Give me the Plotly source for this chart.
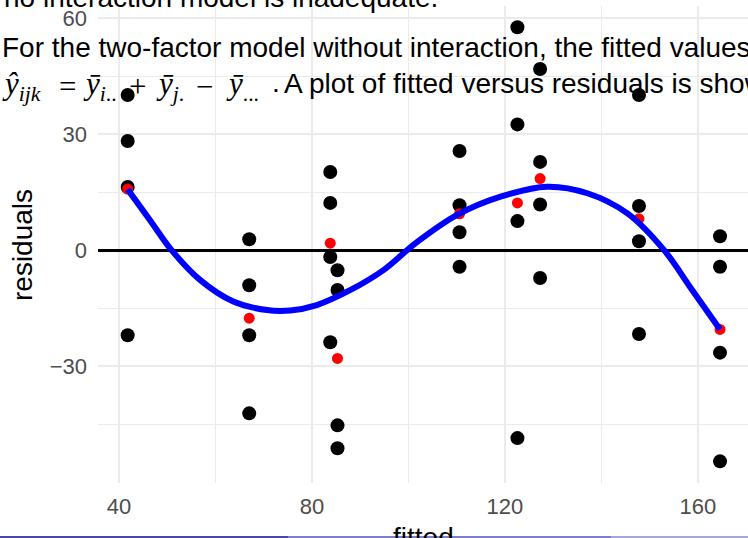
import plotly.graph_objects as go

# ---- data ----
fitted_groups = [41.8, 67.0, 83.8, 85.3, 110.6, 122.6, 127.3, 147.8, 164.6]
residuals_by_group = [
    [40.1, 28.2, 16.3, -22.0],
    [2.8, -9.1, -22.0, -42.2],
    [20.2, 12.2, -1.8, -23.8],
    [-5.2, -10.3, -45.3, -51.2],
    [25.6, 11.6, 4.6, -4.3],
    [57.6, 32.5, 7.5, -48.6],
    [46.8, 22.8, 11.8, -7.2],
    [40.1, 11.4, 2.3, -21.7],
    [3.6, -4.3, -26.5, -54.6],
]
group_means = [15.8, -17.6, 1.8, -28.0, 9.4, 12.2, 18.5, 8.1, -20.5]

smooth_x = [41.8, 46.4, 50.9, 56.8, 63.7, 70.7, 75.5, 81.0, 88.0, 94.9, 101.5,
            110.1, 119.1, 128.8, 137.1, 145.4, 153.0, 158.6, 164.6]
smooth_y = [15.7, 7.8, 0.0, -7.7, -13.3, -15.5, -15.6, -14.2, -10.3, -5.1, 1.8,
            9.1, 13.8, 16.4, 14.7, 9.5, 0.0, -9.9, -20.5]

x_ticks = [40, 80, 120, 160]
y_ticks = [-30, 0, 30, 60]

pts_x = [fx for fx, rs in zip(fitted_groups, residuals_by_group) for _ in rs]
pts_y = [r for rs in residuals_by_group for r in rs]

W, H = 748, 538
L, R, T, B = 98, 0, 6, 55
PW, PH = W - L - R, H - T - B


def px(x):
    return (x - L) / PW


def py(y):
    return (H - B - y) / PH


fig = go.Figure()
fig.add_trace(go.Scatter(x=pts_x, y=pts_y, mode="markers",
                         marker=dict(color="black", size=14), showlegend=False))
fig.add_trace(go.Scatter(x=fitted_groups, y=group_means, mode="markers",
                         marker=dict(color="red", size=11), showlegend=False))
fig.add_trace(go.Scatter(x=smooth_x, y=smooth_y, mode="lines",
                         line=dict(color="blue", width=6, shape="spline", smoothing=1.0),
                         showlegend=False))

grid = "#EBEBEB"
fig.update_xaxes(range=[35.65, 170.4], tickvals=x_ticks, showgrid=True, gridcolor=grid,
                 gridwidth=2, zeroline=False, showline=False, ticks="",
                 tickfont=dict(family="Liberation Sans", size=22, color="#4D4D4D"),
                 ticklabelstandoff=8,
                 minor=dict(tickvals=[60, 100, 140], showgrid=True, gridcolor=grid, gridwidth=1.2))
fig.update_yaxes(range=[-60.2, 63.1], tickvals=y_ticks, showgrid=True, gridcolor=grid,
                 gridwidth=2, zeroline=True, zerolinecolor="black", zerolinewidth=2.6,
                 showline=False, ticks="",
                 tickfont=dict(family="Liberation Sans", size=22, color="#4D4D4D"),
                 ticklabelstandoff=10,
                 minor=dict(tickvals=[-45, -15, 15, 45], showgrid=True, gridcolor=grid, gridwidth=1.2))

sans = dict(family="Liberation Sans", size=28, color="black")
serif = dict(family="Liberation Serif", size=31, color="black")
ann = []
ann.append(dict(text="no interaction model is inadequate.", x=px(2), y=py(-2),
                xanchor="left", yanchor="middle", font=sans))
ann.append(dict(text="For the two-factor model without interaction, the fitted values",
                x=px(0), y=py(48), xanchor="left", yanchor="middle", font=sans))
# math pieces of the third line
math_pieces = [
    ("<i>y\u0302</i><sub><i>ijk</i></sub>", 0, "left"),
    ("=", 67, "center"),
    ("<i>y\u0304</i><sub><i>i</i>..</sub>", 81, "left"),
    ("+", 137, "center"),
    ("<i>y\u0304</i><sub><i>j</i>.</sub>", 154, "left"),
    ("\u2212", 204, "center"),
    ("<i>y\u0304</i><sub>...</sub>", 224, "left"),
]
for txt, xp, anc in math_pieces:
    ann.append(dict(text=txt, x=px(xp), y=py(86), xanchor=anc, yanchor="middle", font=serif))
ann.append(dict(text=".", x=px(270), y=py(82), xanchor="left", yanchor="middle", font=sans))
ann.append(dict(text="A plot of fitted versus residuals is show",
                x=px(282), y=py(83), xanchor="left", yanchor="middle", font=sans))
ann.append(dict(text="residuals", x=px(23), y=py(245), textangle=-90,
                xanchor="center", yanchor="middle", font=sans))
ann.append(dict(text="fitted", x=px(423), y=py(520), xanchor="center", yanchor="top", font=sans))
for a in ann:
    a.update(xref="paper", yref="paper", showarrow=False)

shapes = []
for x0, x1, c in [(0, 288, "#4848AC"), (288, 611, "#7E7ECB"), (611, 748, "#A6A6DC")]:
    shapes.append(dict(type="rect", xref="paper", yref="paper", x0=px(x0), x1=px(x1),
                       y0=py(538), y1=py(536), fillcolor=c, line=dict(width=0), layer="above"))

fig.update_layout(width=W, height=H, margin=dict(l=L, r=R, t=T, b=B, pad=0),
                  plot_bgcolor="white", paper_bgcolor="white",
                  annotations=ann, shapes=shapes)
fig.write_html("out.html")
